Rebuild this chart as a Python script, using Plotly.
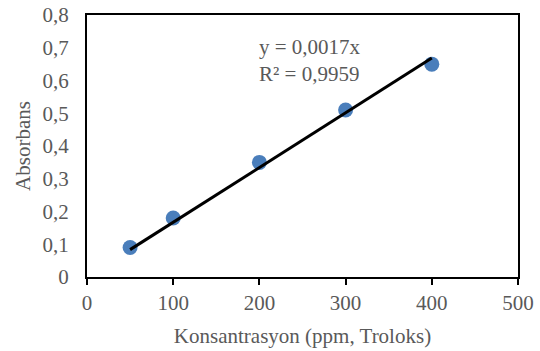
import plotly.graph_objects as go

konsantrasyon = [50, 100, 200, 300, 400]
absorbans = [0.09, 0.18, 0.35, 0.51, 0.65]
# least-squares line through origin (displayed as y = 0,0017x)
slope = sum(x * y for x, y in zip(konsantrasyon, absorbans)) / sum(x * x for x in konsantrasyon)
trend_x = [min(konsantrasyon), max(konsantrasyon)]
trend_y = [slope * v for v in trend_x]
y_ticks = [0, 0.1, 0.2, 0.3, 0.4, 0.5, 0.6, 0.7, 0.8]
y_tick_labels = ["0", "0,1", "0,2", "0,3", "0,4", "0,5", "0,6", "0,7", "0,8"]
x_ticks = [0, 100, 200, 300, 400, 500]

gray = "#595959"
font = "Liberation Serif, Times New Roman, serif"

fig = go.Figure()
fig.add_trace(go.Scatter(x=konsantrasyon, y=absorbans, mode="markers",
                         marker=dict(color="#4A7EBB", size=15), showlegend=False))
fig.add_trace(go.Scatter(x=trend_x, y=trend_y, mode="lines",
                         line=dict(color="black", width=3), showlegend=False))

fig.add_annotation(x=259, y=0.745, xref="x", yref="y", xanchor="center", yanchor="top",
                   text="y = 0,0017x<br>R² = 0,9959", showarrow=False, align="left",
                   font=dict(family=font, size=21, color=gray))

fig.update_layout(
    width=540, height=351,
    margin=dict(l=87, r=22, t=15, b=74),
    paper_bgcolor="white", plot_bgcolor="white",
    font=dict(family=font, size=21, color=gray),
    xaxis=dict(range=[0, 500], tickvals=x_ticks, showgrid=False, zeroline=False,
               showline=True, linecolor="black", linewidth=2, mirror=True,
               ticks="outside", ticklen=6, tickcolor="black", tickwidth=2, automargin=False,
               title=dict(text="Konsantrasyon (ppm, Troloks)", font=dict(size=21), standoff=14)),
    yaxis=dict(range=[0, 0.8], tickvals=y_ticks, ticktext=y_tick_labels, showgrid=False,
               zeroline=False, showline=True, linecolor="black", linewidth=2, mirror=True,
               ticks="", automargin=False, ticklabelstandoff=12,
               title=dict(text="Absorbans", font=dict(size=21), standoff=6)),
)
fig.write_html("out.html", config={"displayModeBar": False},
               post_script="document.body.style.margin='0px';")
